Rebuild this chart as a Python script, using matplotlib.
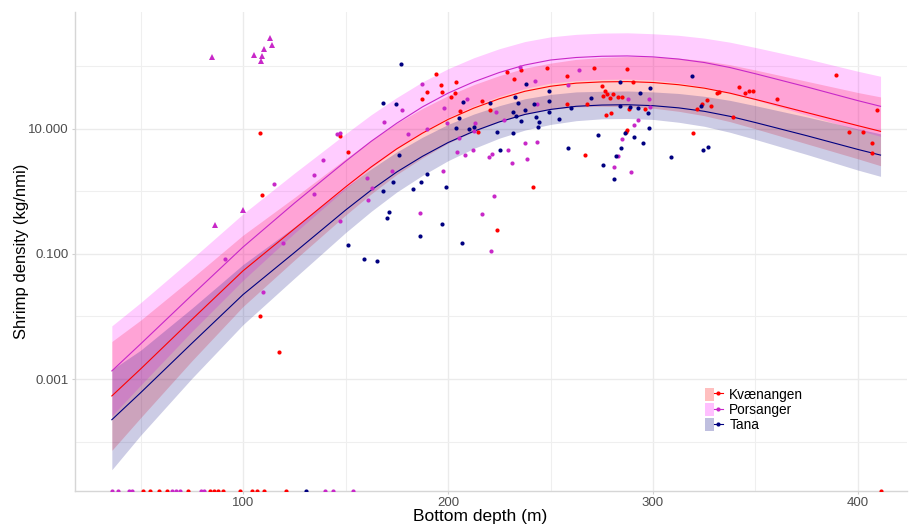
import numpy as np
import matplotlib.pyplot as plt
import matplotlib.transforms as mtransforms
from matplotlib.lines import Line2D
from matplotlib.patches import Patch
from matplotlib.legend_handler import HandlerTuple
from matplotlib.ticker import NullFormatter

plt.rcParams['font.family'] = ['Liberation Sans', 'DejaVu Sans']

regions = ["Kvænangen", "Porsanger", "Tana"]
point_col = {"Kvænangen": "#FF0000", "Porsanger": "#C828C8", "Tana": "#000080"}
fill_col = {"Kvænangen": "#FF0000", "Porsanger": "#FF00FF", "Tana": "#000080"}

# fitted curve (log10 kg/nmi) and half width of the confidence band (decades)
depth_grid = [36, 50, 75, 100, 125, 150, 162.5, 175, 187.5, 200, 212.5, 225, 237.5, 250, 262.5, 275,
              287.5, 300, 312.5, 325, 337.5, 350, 375, 400, 411]
fit_log = {
    "Kvænangen": [-3.27, -2.84, -2.05, -1.27, -0.60, 0.07, 0.39, 0.68, 0.93, 1.15, 1.33, 1.48, 1.60, 1.68, 1.73, 1.75,
                  1.755, 1.74, 1.705, 1.65, 1.57, 1.47, 1.26, 1.05, 0.96],
    "Porsanger": [-2.87, -2.44, -1.66, -0.89, -0.19, 0.48, 0.80, 1.09, 1.35, 1.57, 1.75, 1.90, 2.02, 2.10, 2.14, 2.16,
                  2.165, 2.15, 2.115, 2.06, 1.98, 1.88, 1.67, 1.45, 1.36],
    "Tana":      [-3.65, -3.22, -2.43, -1.65, -0.98, -0.30, 0.02, 0.31, 0.56, 0.78, 0.96, 1.11, 1.23, 1.31, 1.36, 1.38,
                  1.385, 1.37, 1.335, 1.28, 1.20, 1.10, 0.89, 0.67, 0.58],
}
ci_half = {
    "Kvænangen": [0.87, 0.78, 0.66, 0.57, 0.50, 0.45, 0.43, 0.41, 0.395, 0.38, 0.375, 0.37, 0.37, 0.37, 0.38, 0.39,
                  0.40, 0.41, 0.425, 0.44, 0.455, 0.47, 0.50, 0.53, 0.55],
    "Porsanger": [0.72, 0.66, 0.58, 0.53, 0.48, 0.44, 0.425, 0.41, 0.40, 0.39, 0.385, 0.38, 0.375, 0.37, 0.37, 0.37,
                  0.37, 0.37, 0.38, 0.39, 0.405, 0.42, 0.45, 0.47, 0.48],
    "Tana":      [0.80, 0.68, 0.56, 0.48, 0.41, 0.36, 0.34, 0.32, 0.305, 0.29, 0.275, 0.26, 0.25, 0.24, 0.23, 0.22,
                  0.22, 0.22, 0.23, 0.24, 0.255, 0.27, 0.30, 0.33, 0.34],
}

# hauls: depth (m) and log10 density
kv_depth = [108.3, 147.3, 151.4, 109.3, 108.3, 117.6, 194.0, 189.6, 196.6, 196.9, 187.5, 203.9, 203.4, 201.5,
            205.9, 216.6, 220.5, 214.5, 228.9, 235.5, 232.3, 241.3, 223.9, 248.4, 271.4, 287.5, 257.9, 290.4,
            275.0, 276.4, 277.7, 280.3, 275.5, 279.0, 282.8, 284.9, 267.8, 257.9, 288.4, 296.2, 276.9, 279.4,
            287.3, 286.7, 319.7, 266.8, 331.2, 332.3, 326.3, 321.3, 323.8, 328.4, 389.3, 342.0, 344.9, 346.7,
            348.9, 360.5, 339.2, 409.3, 395.8, 402.3, 406.8, 406.8]
kv_logd = [0.931, 0.893, 0.637, -0.056, -2.0, -2.57, 1.869, 1.581, 1.704, 1.581, 1.475, 1.752, 1.571, 1.501,
           1.277, 1.443, 1.293, 0.952, 1.901, 1.933, 1.789, 0.077, -0.616, 1.971, 1.965, 1.949, 1.843, 1.747,
           1.688, 1.597, 1.56, 1.555, 1.528, 1.496, 1.507, 1.507, 1.395, 1.395, 1.309, 1.309, 1.219, 1.256,
           0.979, 0.952, 0.931, 0.584, 1.565, 1.584, 1.464, 1.32, 1.39, 1.368, 1.864, 1.661, 1.571, 1.597,
           1.603, 1.48, 1.181, 1.293, 0.947, 0.952, 0.771, 0.616]

po_depth = [146.0, 139.2, 134.6, 115.3, 134.6, 147.3, 119.4, 91.2, 109.9, 160.3, 172.5, 162.8, 161.0, 186.3,
            187.5, 177.4, 168.9, 198.0, 209.4, 189.6, 199.4, 180.5, 205.4, 223.4, 213.3, 212.7, 204.2, 208.3,
            212.3, 220.1, 221.3, 229.3, 231.2, 227.3, 235.0, 242.4, 237.7, 243.3, 238.4, 197.4, 222.4, 216.4,
            220.8, 263.9, 258.4, 298.2, 287.8, 243.6, 298.4, 292.8, 290.9, 284.9, 283.1, 280.8, 289.4, 147.3]
po_logd = [0.92, 0.499, 0.259, 0.12, -0.04, -0.472, -0.819, -1.08, -1.603, 0.216, 0.323, 0.056, -0.141, -0.344,
           1.72, 1.293, 1.101, 1.325, 1.469, 1.0, 1.091, 0.915, 0.861, 1.261, 1.091, 0.963, 0.637, 0.589,
           0.669, 0.552, 0.6, 0.659, 0.451, 1.133, 1.992, 1.763, 0.771, 0.792, 0.515, 0.333, -0.077, -0.355,
           -0.957, 1.933, 1.693, 1.48, 1.475, 1.395, 1.341, 1.144, 1.064, 0.84, 0.573, 0.387, 0.312, 0.931]
# Porsanger hauls drawn as triangles
po_tri_depth = [85.0, 105.4, 109.4, 108.8, 110.4, 113.3, 114.3, 99.9, 86.3]
po_tri_logd = [2.152, 2.184, 2.168, 2.077, 2.28, 2.451, 2.333, -0.296, -0.536]

ta_depth = [151.4, 176.0, 168.4, 173.3, 182.9, 186.8, 189.9, 171.4, 170.1, 186.5, 159.0, 165.4, 176.9, 168.4,
            174.5, 207.5, 205.2, 203.9, 220.5, 210.4, 212.8, 223.9, 225.4, 231.9, 231.9, 233.2, 234.1, 232.8,
            237.9, 237.4, 242.1, 249.1, 249.1, 235.8, 244.4, 243.8, 198.9, 196.9, 206.8, 283.9, 293.7, 298.4,
            269.9, 259.9, 283.9, 288.8, 292.8, 297.6, 249.4, 242.8, 254.0, 298.2, 286.3, 290.9, 273.3, 295.0,
            258.4, 284.4, 282.1, 275.5, 280.8, 308.9, 324.2, 326.8, 318.9, 323.3]
ta_logd = [-0.856, 0.579, 0.003, 0.152, 0.04, 0.157, 0.275, -0.328, -0.429, -0.712, -1.08, -1.117, 2.035, 1.411,
           1.4, 1.421, 1.171, 1.021, 1.411, 0.995, 1.037, 0.952, 0.659, 0.941, 1.261, 1.208, 1.411, 1.501,
           1.715, 1.293, 1.395, 1.597, 1.448, 1.117, 1.107, 1.027, 0.077, -0.525, -0.819, 1.747, 1.571, 1.645,
           1.491, 1.336, 1.357, 1.352, 1.331, 1.251, 1.272, 1.181, 1.16, 1.021, 0.936, 0.877, 0.904, 0.771,
           0.701, 0.696, 0.568, 0.429, 0.205, 0.557, 0.664, 0.717, 1.848, 1.363]

# hauls with zero catch (shown on the lower edge)
kv_zero = [51.1, 54.6, 58.9, 62.8, 73.3, 83.9, 85.9, 87.9, 90.4, 98.5, 104.2, 106.7, 110.4, 121.0, 411.2]
po_zero = [36.2, 39.1, 44.4, 45.7, 65.2, 67.3, 69.3, 79.5, 81.1, 140.0, 144.0, 153.5]
ta_zero = [130.7]

points = {
    "Kvænangen": (kv_depth, kv_logd, kv_zero),
    "Porsanger": (po_depth, po_logd, po_zero),
    "Tana": (ta_depth, ta_logd, ta_zero),
}

fig = plt.figure(figsize=(9.09, 5.26), dpi=100)
ax = fig.add_axes([0.082, 0.0665, 0.916, 0.911])
ax.set_yscale('log')

for r in regions:
    f = np.array(fit_log[r])
    w = np.array(ci_half[r])
    ax.fill_between(depth_grid, 10 ** (f - w), 10 ** (f + w), color=fill_col[r], alpha=0.2, lw=0, zorder=1)
for r in regions:
    ax.plot(depth_grid, 10 ** np.array(fit_log[r]), color=point_col[r], lw=0.8, zorder=2)

edge = mtransforms.blended_transform_factory(ax.transData, ax.transAxes)
for r in regions:
    d, ld, z = points[r]
    ax.plot(d, 10 ** np.array(ld), 'o', ms=3.0, mew=0, color=point_col[r], zorder=3)
    ax.plot(z, [0] * len(z), 'o', ms=3.0, mew=0, color=point_col[r], transform=edge, zorder=3)
ax.plot(po_tri_depth, 10 ** np.array(po_tri_logd), '^', ms=3.8, mew=0, color=point_col["Porsanger"], zorder=3)

ax.set_xlim(17.8, 424)
ax.set_ylim(10 ** -4.79, 10 ** 2.87)
ax.set_xticks([100, 200, 300, 400])
ax.set_xticks([50, 150, 250, 350], minor=True)
ax.set_yticks([1e-3, 1e-1, 1e1])
ax.set_yticklabels(["0.001", "0.100", "10.000"])
ax.set_yticks([1e-4, 1e-2, 1, 1e2], minor=True)
ax.yaxis.set_minor_formatter(NullFormatter())
ax.grid(which='major', color='#EBEBEB', lw=1.0, zorder=0)
ax.grid(which='minor', color='#EFEFEF', lw=0.8, zorder=0)
ax.set_axisbelow(True)
ax.tick_params(which='major', length=2.5, width=0.8, color='#D0D0D0', labelsize=9.5, labelcolor='#4D4D4D', pad=2)
ax.tick_params(which='minor', length=0)
for s in ['top', 'right']:
    ax.spines[s].set_visible(False)
for s in ['left', 'bottom']:
    ax.spines[s].set_color('#D6D6D6')
    ax.spines[s].set_linewidth(1.0)

fig.text(0.528, 0.019, "Bottom depth (m)", ha='center', va='center', fontsize=12.5)
fig.text(0.024, 0.523, "Shrimp density (kg/nmi)", ha='center', va='center', rotation=90, fontsize=12)

handles = []
for r in regions:
    handles.append((Patch(facecolor=fill_col[r], alpha=0.25, lw=0),
                    Line2D([0], [0], color=point_col[r], lw=0.8, marker='o', ms=3.0, mew=0)))
fig.legend(handles, regions, handler_map={tuple: HandlerTuple(ndivide=None, pad=0)},
           loc='upper left', bbox_to_anchor=(698 / 909, 1 - 381 / 526), frameon=False,
           borderpad=0, handlelength=1.3, handleheight=1.15, labelspacing=0.05,
           handletextpad=0.5, fontsize=9.8)

fig.savefig("out.png", dpi=100)
